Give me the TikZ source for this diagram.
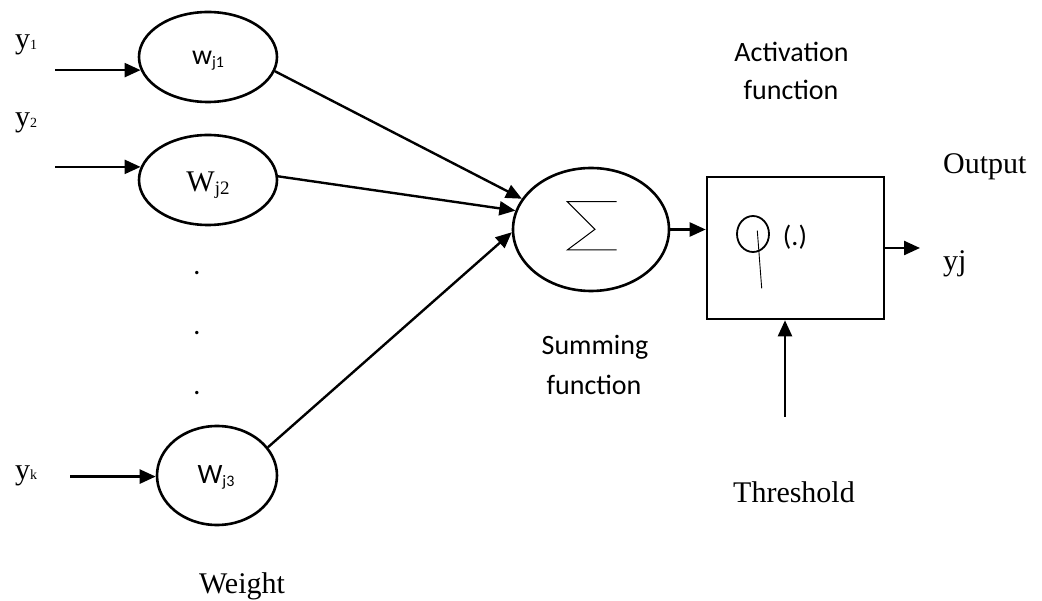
\documentclass[tikz,border=0pt]{standalone}
\usepackage{fontspec}
\setmainfont{Liberation Serif}
\newfontfamily\calibrifont{Carlito}
\usetikzlibrary{arrows.meta,shapes.geometric}

% lowered small text for subscripts: size, drop, text
\newcommand\lowsub[3]{\raisebox{-#2pt}{\fontsize{#1}{#1}\selectfont #3}}

\tikzset{
  conn/.style={line width=2.4pt, -{Triangle[length=16pt,width=14pt]}},
  ell/.style={draw, ellipse, line width=2.6pt, inner sep=0pt},
  boxshape/.style={draw, rectangle, line width=2.6pt, inner sep=0pt},
  serif/.style={inner sep=0pt, font=\fontsize{30}{36}\selectfont},
  calib/.style={inner sep=0pt, font=\calibrifont\fontsize{28}{34}\selectfont},
}

\begin{document}
\begin{tikzpicture}[x=1pt,y=-1pt,line join=miter]
\useasboundingbox (0,0) rectangle (1042,601);

% weight units, summing unit, activation box
\node[ell, minimum width=138pt, minimum height=90pt] (w1) at (208,57) {};
\node[ell, minimum width=138pt, minimum height=90pt] (w2) at (208,180) {};
\node[ell, minimum width=120pt, minimum height=99pt] (w3) at (217,475.5) {};
\node[ell, minimum width=156pt, minimum height=123pt] (sum) at (591,229.5) {};
\node[boxshape, minimum width=177pt, minimum height=142pt] (act) at (795.5,248) {};

% texts inside the weight units
\node[calib, anchor=base] (tw1) at (208,65) {w\lowsub{16}{3}{j1}};
\node[serif, anchor=base] (tw2) at (208,192) {W\lowsub{19}{3}{j2}};
\node[calib, anchor=base] (tw3) at (216,483) {W\lowsub{16}{3}{j3}};

% vertical ellipsis between the weights
\node[calib, anchor=base] (d1) at (197,275) {.};
\node[calib, anchor=base] (d2) at (197,335) {.};
\node[calib, anchor=base] (d3) at (197,395) {.};

% input labels
\node[serif, anchor=base west] (ly1) at (15,49) {y\lowsub{14}{1}{1}};
\node[serif, anchor=base west] (ly2) at (15,127) {y\lowsub{14}{1}{2}};
\node[serif, anchor=base west] (lyk) at (15,479) {y\lowsub{14}{1}{k}};

% input arrows
\coordinate (s1) at (55,0 |- w1.191);
\coordinate (s2) at (55,0 |- w2.169);
\coordinate (sk) at (70,0 |- w3.181);
\draw[conn] (s1) -- (w1.191);
\draw[conn] (s2) -- (w2.169);
\draw[conn] (sk) -- (w3.181);

% weighted inputs into the summing unit
\draw[conn] (w1.-12) -- (sum.156);
\draw[conn] (w2.3) -- (sum.166);
\draw[conn] (w3.29) -- (sum.182);

% summation sign
\draw[line width=1pt] (616.7,201.7) -- (567.3,201.7) -- (595,229.3) -- (567.3,250) -- (616.7,250);

% sum to activation, activation to output, threshold
\draw[conn] (sum.east) -- (sum.east -| act.west);
\coordinate (yout) at (920,248);
\draw[conn] (act.east) -- (yout);
\coordinate (thr) at (785,417);
\draw[conn] (thr) -- (thr |- act.south);

% activation symbol
\draw[line width=1.8pt] (753,234) ellipse [x radius=16pt, y radius=18pt];
\draw[line width=0.9pt] (757.3,230.7) -- (761.7,288.3);
\node[calib, anchor=base] (phiarg) at (795,246) {(.)};

% captions
\node[calib, anchor=base] (cap1) at (791.5,62) {Activation};
\node[calib, anchor=base] (cap1b) at (791,100) {function};
\node[calib, anchor=base] (cap2) at (595,355) {Summing};
\node[calib, anchor=base] (cap2b) at (594,395) {function};
\node[serif, anchor=base west] (lout) at (943,174) {Output};
\node[serif, anchor=base west] (lyj) at (943,271) {yj};
\node[serif, anchor=base] (lthr) at (794,502) {Threshold};
\node[serif, anchor=base] (lw) at (242,593) {Weight};
\end{tikzpicture}
\end{document}
